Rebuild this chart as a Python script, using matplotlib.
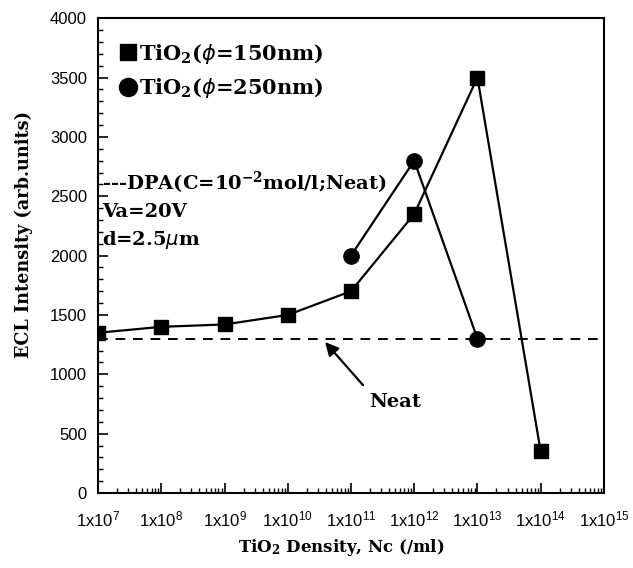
import numpy as np
import matplotlib.pyplot as plt
from matplotlib.lines import Line2D
from matplotlib.ticker import MultipleLocator, LogLocator, NullFormatter, FixedLocator

# data
dens_150 = [1e7, 1e8, 1e9, 1e10, 1e11, 1e12, 1e13, 1e14]
ecl_150 = [1350, 1400, 1420, 1500, 1700, 2350, 3500, 350]
dens_250 = [1e11, 1e12, 1e13]
ecl_250 = [2000, 2800, 1300]
neat_level = 1300
xtick_exp = [7, 8, 9, 10, 11, 12, 13, 14, 15]

serif = ['DejaVu Serif']
sans = ['Liberation Sans', 'DejaVu Sans']

fig = plt.figure(figsize=(6.33, 5.68), dpi=100)
ax = fig.add_axes([0.155, 0.132, 0.799, 0.836])

ax.plot(dens_150, ecl_150, color='black', lw=1.6, marker='s', ms=10)
ax.plot(dens_250, ecl_250, color='black', lw=1.6, marker='o', ms=11)
ax.axhline(neat_level, color='black', lw=1.4, ls=(0, (5, 4)))

ax.set_xscale('log')
ax.set_xlim(1e7, 1e15)
ax.set_ylim(0, 4000)

ax.xaxis.set_major_locator(FixedLocator([10.0 ** e for e in xtick_exp]))
ax.set_xticklabels(['1x10$\\mathregular{^{%d}}$' % e for e in xtick_exp],
                   family=sans, fontsize=12)
ax.xaxis.set_minor_locator(LogLocator(base=10, subs=np.arange(2, 10)))
ax.xaxis.set_minor_formatter(NullFormatter())
ax.yaxis.set_major_locator(MultipleLocator(500))
ax.yaxis.set_minor_locator(MultipleLocator(100))
for lab in ax.get_yticklabels():
    lab.set_family(sans)
    lab.set_fontsize(12)

ax.tick_params(axis='x', which='major', pad=12)
ax.tick_params(axis='y', which='major', pad=8)
ax.tick_params(which='major', direction='in', length=7, width=1.2)
ax.tick_params(which='minor', direction='in', length=3.5, width=1)
ax.tick_params(top=False, right=False, which='both')
for s in ax.spines.values():
    s.set_linewidth(1.5)

ax.set_xlabel('TiO$\\mathregular{_2}$ Density, Nc (/ml)', family=serif,
              fontweight='bold', fontsize=12, labelpad=5, x=0.48)
ax.set_ylabel('ECL Intensity (arb.units)', family=serif,
              fontweight='bold', fontsize=12.7, labelpad=12, y=0.545)

handles = [Line2D([], [], color='black', marker='s', ls='none', ms=12),
           Line2D([], [], color='black', marker='o', ls='none', ms=13)]
labels = ['TiO$\\mathregular{_2}$($\\phi$=150nm)', 'TiO$\\mathregular{_2}$($\\phi$=250nm)']
ax.legend(handles, labels, loc='upper left', frameon=False,
          handlelength=0.65, handletextpad=0.2, labelspacing=0.5,
          borderaxespad=0.0, bbox_to_anchor=(0.03, 0.968),
          prop={'family': serif, 'weight': 'bold', 'size': 15})

tkw = dict(transform=ax.transAxes, family=serif, fontweight='bold', fontsize=14,
           va='center')
ax.text(0.008, 0.652, '---DPA(C=10$\\mathregular{^{-2}}$mol/l;Neat)', **tkw)
ax.text(0.008, 0.592, 'Va=20V', **tkw)
ax.text(0.008, 0.533, 'd=2.5$\\mu$m', **tkw)

ax.text(10 ** 11.7, 766, 'Neat', family=serif, fontweight='bold', fontsize=14,
        ha='center', va='center')
ax.annotate('', xy=(10 ** 10.59, 1272), xytext=(10 ** 11.19, 909),
            arrowprops=dict(arrowstyle='-|>', color='black', lw=1.6,
                            shrinkA=0, shrinkB=0, mutation_scale=20))

fig.savefig('out.png', dpi=100)
